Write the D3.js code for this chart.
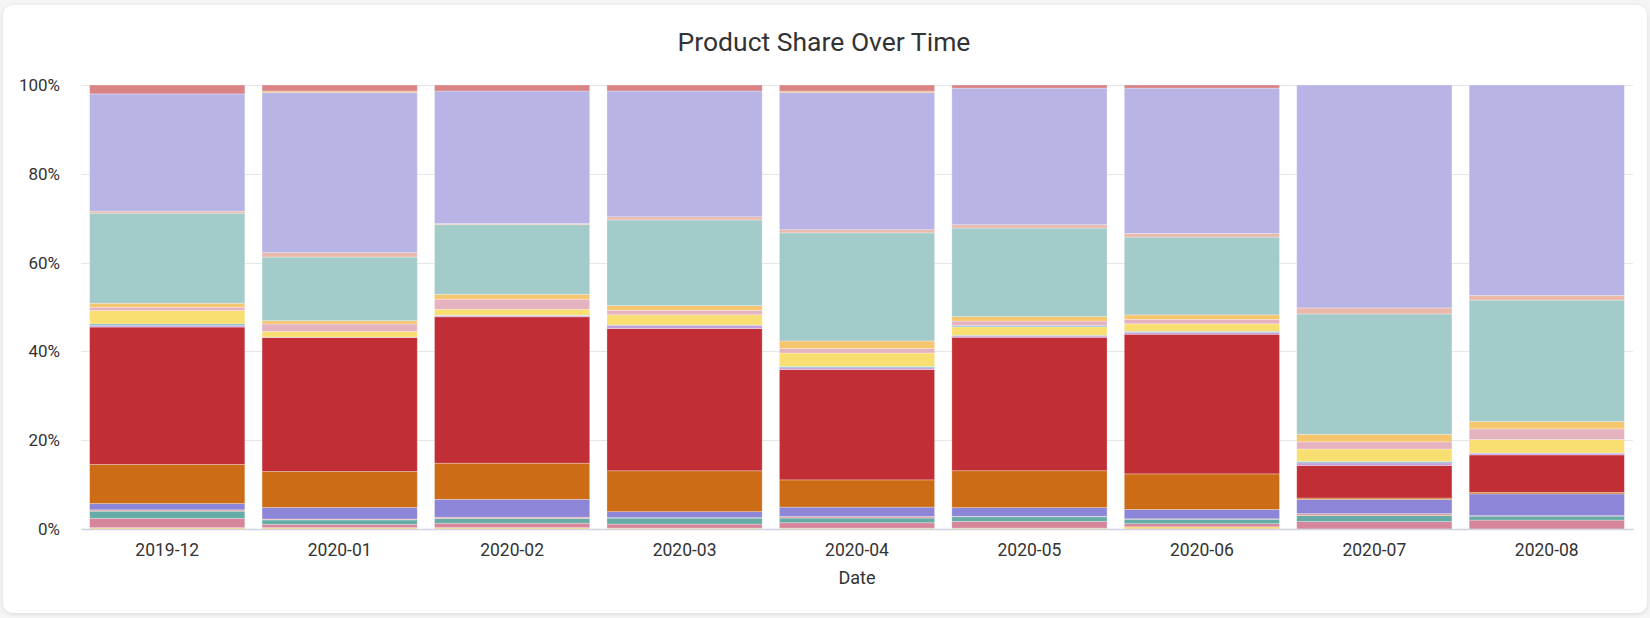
<!DOCTYPE html>
<html>
<head>
<meta charset="utf-8">
<script src="https://cdn.jsdelivr.net/npm/d3@7"></script>
<style>
  html, body { margin: 0; padding: 0; background: #f5f5f5; }
  body { width: 1650px; height: 618px; overflow: hidden; font-family: Roboto, "Noto Sans", sans-serif; }
  svg { display: block; }
</style>
</head>
<body>
<svg id="chart" width="1650" height="618"></svg>
<script>
// ---- data ----
const dates = ["2019-12", "2020-01", "2020-02", "2020-03", "2020-04", "2020-05", "2020-06", "2020-07", "2020-08"];

const productNames = ["Product Q", "Product P", "Product O", "Product N", "Product M", "Product L", "Product K", "Product J",
  "Product I", "Product H", "Product G", "Product F", "Product E", "Product D", "Product C", "Product B", "Product A2", "Product A"];

const productColors = ["#f8d66c", "#d5869a", "#66aba5", "#dba39b", "#8c85d8", "#cd6c16", "#c12e35", "#c5a0dd",
  "#6fadc8", "#f9df71", "#6eaed4", "#e5b3bf", "#f6c66f", "#a2cbca", "#ebb9ab", "#b8b4e6", "#e9b57a", "#d98384"];

// share (%) per product, one value per date, bottom of stack first
const productQ  = [0.3, 0.3, 0.3, 0.2, 0.2, 0.2, 0.5, 0, 0];
const productP  = [2.1, 0.75, 1.0, 0.9, 1.2, 1.5, 0.7, 1.65, 2.0];
const productO  = [1.6, 1.0, 1.05, 1.35, 1.05, 1.05, 1.0, 1.35, 0.9];
const productN  = [0.3, 0.2, 0.3, 0.1, 0.35, 0.1, 0.1, 0.45, 0.1];
const productM  = [1.4, 2.6, 4.0, 1.35, 2.1, 1.95, 2.1, 3.2, 4.9];
const productL  = [8.8, 8.1, 8.1, 9.2, 6.1, 8.3, 8.0, 0.3, 0.35];
const productK  = [30.8, 30.1, 32.8, 32.0, 24.7, 30.0, 31.4, 7.3, 8.4];
const productJ  = [0.35, 0.1, 0.3, 0.75, 0.4, 0.3, 0.45, 0.6, 0.4];
const productI  = [0.35, 0, 0.05, 0.05, 0.3, 0.15, 0.2, 0.3, 0.05];
const productH  = [3.0, 1.3, 1.35, 2.3, 3.0, 1.9, 1.7, 2.8, 3.0];
const productG  = [0, 0, 0, 0, 0, 0.3, 0, 0, 0];
const productF  = [0.75, 1.65, 2.25, 1.0, 1.0, 1.0, 1.0, 1.6, 2.4];
const productE  = [0.9, 0.75, 1.1, 1.05, 1.7, 1.0, 1.0, 1.7, 1.65];
const productD  = [20.2, 14.3, 15.6, 19.3, 24.2, 19.9, 17.5, 27.0, 27.3];
const productC  = [0.45, 1.0, 0.25, 0.7, 0.7, 0.75, 0.8, 1.35, 1.05];
const productB  = [26.3, 36.0, 29.7, 28.3, 30.7, 30.7, 32.7, 50.0, 47.3];
const productA2 = [0, 0.35, 0, 0, 0.35, 0, 0, 0, 0];
const productA  = [2.0, 1.35, 1.35, 1.35, 1.35, 0.7, 0.7, 0, 0];

const seriesValues = [productQ, productP, productO, productN, productM, productL, productK, productJ,
  productI, productH, productG, productF, productE, productD, productC, productB, productA2, productA];

const yTicks = [0, 0.2, 0.4, 0.6, 0.8, 1.0];

// ---- build table ----
const table = dates.map((d, i) => {
  const row = { date: d };
  productNames.forEach((p, j) => { row[p] = seriesValues[j][i]; });
  return row;
});

const svg = d3.select("#chart");
const W = 1650, H = 618;

// card
const defs = svg.append("defs");
const f = defs.append("filter").attr("id", "shadow").attr("x", "-5%").attr("y", "-5%").attr("width", "110%").attr("height", "110%");
f.append("feDropShadow").attr("dx", 0).attr("dy", 1).attr("stdDeviation", 2).attr("flood-color", "#000").attr("flood-opacity", 0.12);
svg.append("rect").attr("x", 3).attr("y", 5).attr("width", W - 6).attr("height", H - 10)
  .attr("rx", 10).attr("fill", "#fff").attr("filter", "url(#shadow)");

const plot = { left: 81, right: 1633, top: 85, bottom: 529 };

const x = d3.scaleBand().domain(dates).range([plot.left, plot.right]).paddingInner(0.1).paddingOuter(0.05);
const y = d3.scaleLinear().domain([0, 1]).range([plot.bottom, plot.top]);
const color = d3.scaleOrdinal().domain(productNames).range(productColors);

// title
svg.append("text").attr("x", 824).attr("y", 51).attr("text-anchor", "middle")
  .attr("font-size", 26.5).attr("fill", "#333").text("Product Share Over Time");

// grid
svg.append("g").selectAll("line").data(yTicks.filter(t => t > 0)).join("line")
  .attr("x1", plot.left).attr("x2", plot.right)
  .attr("y1", d => Math.round(y(d)) + 0.5).attr("y2", d => Math.round(y(d)) + 0.5)
  .attr("stroke", "#e6e6e6").attr("stroke-width", 1);

// stack
const stack = d3.stack().keys(productNames).offset(d3.stackOffsetExpand);
const layers = stack(table);

svg.append("g").selectAll("g").data(layers).join("g")
  .attr("fill", d => color(d.key))
  .selectAll("rect").data(d => d).join("rect")
  .attr("x", d => x(d.data.date))
  .attr("width", x.bandwidth())
  .attr("y", d => y(d[1]))
  .attr("height", d => Math.max(0, y(d[0]) - y(d[1])))
  .attr("stroke", "rgba(255,255,255,0.35)")
  .attr("stroke-width", 0.8);

// x axis
const xAxis = svg.append("g").attr("transform", `translate(0,${plot.bottom})`)
  .call(d3.axisBottom(x).tickSize(0).tickPadding(15));
xAxis.select(".domain").attr("stroke", "#cfd3e3").attr("stroke-width", 1.5);
xAxis.selectAll("text").attr("font-size", 17.5).attr("fill", "#333").attr("font-family", "Roboto, sans-serif");

// y axis
const yAxis = svg.append("g").attr("transform", `translate(${plot.left - 21},0)`)
  .call(d3.axisLeft(y).tickValues(yTicks).tickFormat(d3.format(".0%")).tickSize(0).tickPadding(0));
yAxis.select(".domain").remove();
yAxis.selectAll("text").attr("font-size", 17).attr("fill", "#333").attr("font-family", "Roboto, sans-serif");

// x label
svg.append("text").attr("x", (plot.left + plot.right) / 2).attr("y", 584).attr("text-anchor", "middle")
  .attr("font-size", 18).attr("fill", "#333").text("Date");
</script>
</body>
</html>
